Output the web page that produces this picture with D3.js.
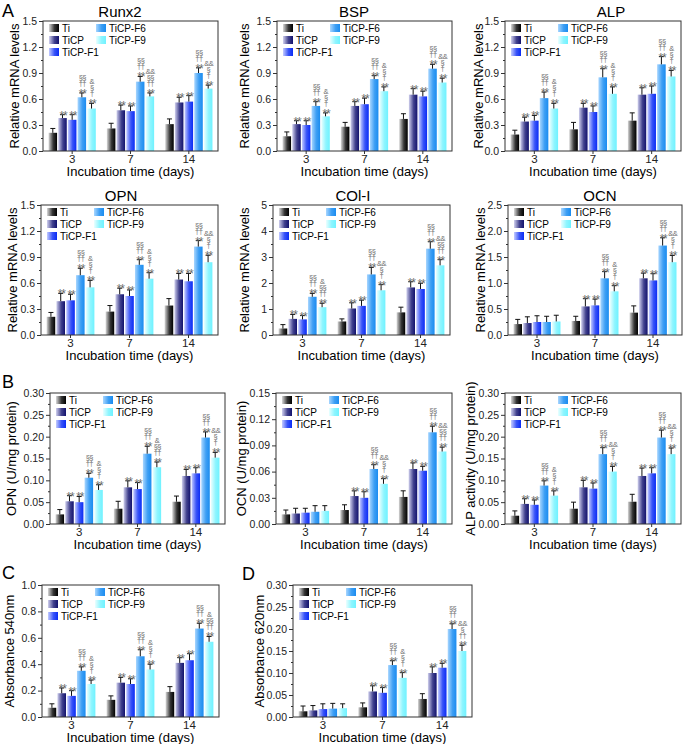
<!DOCTYPE html>
<html><head><meta charset="utf-8">
<script src="https://cdn.jsdelivr.net/npm/d3@7"></script>
<style>body{margin:0;background:#fff} svg{display:block} text{font-family:"Liberation Sans",Arial,sans-serif}</style>
</head><body><svg id="c" width="685" height="744"></svg>
<script>
const days = ["3","7","14"];
const series = ["Ti","TiCP","TiCP-F1","TiCP-F6","TiCP-F9"];
const seriesLight = ["#d8d8d8","#d0d0ee","#c4ccff","#a8d6ff","#eaffff"];
const seriesDark  = ["#000000","#12126e","#0a2cf5","#1a8cf0","#6ff2ff"];

// values: [day][series]
const runx2Mean = [[0.21,0.38,0.36,0.62,0.49],[0.26,0.47,0.46,0.80,0.63],[0.31,0.56,0.57,0.90,0.72]];
const runx2Err  = [[0.05,0.04,0.06,0.05,0.06],[0.06,0.06,0.06,0.06,0.04],[0.06,0.06,0.07,0.06,0.04]];
const runx2Sig  = [["","**","**","**|††|§§","**|†|§|&"],["","**","**","**|††|§§","**|††|§§|&&"],["","**","**","**|††|§§","**|†|§|&&"]];

const bspMean = [[0.17,0.31,0.30,0.52,0.40],[0.28,0.52,0.54,0.83,0.69],[0.37,0.65,0.63,0.95,0.79]];
const bspErr  = [[0.05,0.04,0.05,0.05,0.04],[0.05,0.05,0.07,0.04,0.05],[0.06,0.07,0.06,0.05,0.05]];
const bspSig  = [["","**","**","**|††|§§","**|†|§|&"],["","**","**","**|††|§§","**|†|§|&"],["","**","**","**|††|§§","**|†|§|&&"]];

const alpMean = [[0.19,0.34,0.35,0.61,0.49],[0.25,0.50,0.45,0.85,0.66],[0.35,0.65,0.66,1.00,0.86]];
const alpErr  = [[0.05,0.05,0.06,0.07,0.06],[0.08,0.05,0.07,0.10,0.08],[0.09,0.08,0.09,0.09,0.07]];
const alpSig  = [["","**","**","**|††|§§","**|†|§|&"],["","**","**","**|††|§§","**|†|§|&"],["","**","**","**|††|§§","**|†|§|&"]];

const opnMean = [[0.21,0.39,0.40,0.69,0.55],[0.27,0.47,0.45,0.81,0.65],[0.34,0.64,0.62,1.02,0.84]];
const opnErr  = [[0.05,0.09,0.07,0.08,0.08],[0.07,0.07,0.07,0.06,0.07],[0.08,0.07,0.09,0.07,0.08]];
const opnSig  = [["","**","**","**|††|§§","**|†|§|&"],["","**","**","**|††|§§","**|†|§|&"],["","**","**","**|††|§§","**|†|§|&&"]];

const colMean = [[0.25,0.62,0.60,1.47,1.07],[0.52,1.02,1.12,2.33,1.72],[0.87,1.83,1.77,3.32,2.68]];
const colErr  = [[0.15,0.17,0.15,0.13,0.15],[0.10,0.22,0.22,0.27,0.22],[0.20,0.22,0.22,0.27,0.22]];
const colSig  = [["","**","**","**|††|§§","**|††|§§|&"],["","**","**","**|††|§§","**|†|§|&&"],["","**","**","**|††|§§","**|††|§§|&&"]];

const ocnMean = [[0.21,0.23,0.25,0.25,0.26],[0.27,0.55,0.57,1.09,0.84],[0.43,1.09,1.05,1.72,1.40]];
const ocnErr  = [[0.09,0.12,0.12,0.11,0.12],[0.09,0.15,0.12,0.13,0.11],[0.13,0.10,0.13,0.15,0.13]];
const ocnSig  = [["","","","",""],["","**","**","**|††|§§","**|†|§|&"],["","**","**","**|††|§§","**|†|§|&&"]];

const opnProtMean = [[0.022,0.052,0.050,0.106,0.078],[0.035,0.084,0.080,0.161,0.130],[0.051,0.110,0.116,0.198,0.152]];
const opnProtErr  = [[0.011,0.013,0.013,0.010,0.012],[0.017,0.015,0.015,0.017,0.012],[0.013,0.015,0.013,0.013,0.012]];
const opnProtSig  = [["","**","**","**|††|§§","**|†|§|&"],["","**","**","**|††|§§","**|††|§§|&"],["","**","**","**|††|§§","**|†|§|&&"]];

const ocnProtMean = [[0.011,0.012,0.013,0.014,0.015],[0.016,0.032,0.030,0.063,0.046],[0.031,0.063,0.061,0.105,0.083]];
const ocnProtErr  = [[0.005,0.006,0.005,0.007,0.006],[0.006,0.006,0.007,0.005,0.006],[0.007,0.007,0.005,0.007,0.005]];
const ocnProtSig  = [["","","","",""],["","**","**","**|††|§§","**|†|§|&&"],["","**","**","**|††|§§","**|††|§§|&&"]];

const alpActMean = [[0.019,0.046,0.044,0.088,0.065],[0.035,0.084,0.081,0.160,0.120],[0.051,0.110,0.116,0.198,0.160]];
const alpActErr  = [[0.011,0.012,0.011,0.011,0.011],[0.015,0.016,0.013,0.015,0.012],[0.017,0.018,0.013,0.017,0.014]];
const alpActSig  = [["","**","**","**|††|§§","**|†|§|&"],["","**","**","**|††|§§","**|†|§|&&"],["","**","**","**|††|§§","**|†|§|&&"]];

const abs540Mean = [[0.07,0.18,0.16,0.35,0.25],[0.13,0.26,0.25,0.46,0.36],[0.19,0.41,0.43,0.67,0.57]];
const abs540Err  = [[0.03,0.04,0.04,0.03,0.03],[0.03,0.04,0.04,0.05,0.04],[0.04,0.04,0.05,0.04,0.04]];
const abs540Sig  = [["","**","**","**|††|§§","**|†|§|&"],["","**","**","**|††|§§","**|†|§|&"],["","**","**","**|††|§§","**|††|§§|&"]];

const abs620Mean = [[0.013,0.015,0.018,0.019,0.020],[0.022,0.058,0.055,0.118,0.089],[0.041,0.100,0.112,0.200,0.150]];
const abs620Err  = [[0.012,0.011,0.012,0.012,0.010],[0.010,0.013,0.012,0.010,0.012],[0.012,0.014,0.010,0.012,0.013]];
const abs620Sig  = [["","","","",""],["","**","**","**|††|§§","**|†|§|&"],["","**","**","**|††|§§","**|††|§|&&"]];

const xTitle = "Incubation time (days)";

const panels = [
  {title:"Runx2", tx:120, ty:17, yl:"Relative mRNA levels", ylx:14, x:43,  y:21,  w:175, h:130, max:1.5, step:0.3, fmt:".1f", mean:runx2Mean, err:runx2Err, sig:runx2Sig},
  {title:"BSP",   tx:354, ty:17, yl:"Relative mRNA levels", ylx:244, x:277, y:21,  w:175, h:130, max:1.5, step:0.3, fmt:".1f", mean:bspMean, err:bspErr, sig:bspSig},
  {title:"ALP",   tx:611, ty:17, yl:"Relative mRNA levels", ylx:478, x:505, y:21,  w:176, h:130, max:1.5, step:0.3, fmt:".1f", mean:alpMean, err:alpErr, sig:alpSig},
  {title:"OPN",   tx:121, ty:201, yl:"Relative mRNA levels", ylx:12, x:41,  y:205, w:177, h:130, max:1.5, step:0.3, fmt:".1f", mean:opnMean, err:opnErr, sig:opnSig},
  {title:"COl-I", tx:353, ty:201, yl:"Relative mRNA levels", ylx:244, x:273, y:205, w:177, h:130, max:5, step:1, fmt:"d", mean:colMean, err:colErr, sig:colSig},
  {title:"OCN",   tx:600, ty:201, yl:"Relative mRNA levels", ylx:480, x:508, y:205, w:174, h:130, max:2.5, step:0.5, fmt:".1f", mean:ocnMean, err:ocnErr, sig:ocnSig},
  {yl:"OPN (U/mg protein)", ylx:11, x:50,  y:393, w:175, h:131, max:0.30, step:0.05, fmt:".2f", mean:opnProtMean, err:opnProtErr, sig:opnProtSig},
  {yl:"OCN (U/mg protein)", ylx:241, x:276, y:393, w:176, h:131, max:0.15, step:0.03, fmt:".2f", mean:ocnProtMean, err:ocnProtErr, sig:ocnProtSig},
  {yl:"ALP activity (U/mg protein)", ylx:470, x:505, y:393, w:176, h:131, max:0.30, step:0.05, fmt:".2f", mean:alpActMean, err:alpActErr, sig:alpActSig},
  {yl:"Absorbance 540nm", ylx:9, x:42, y:585, w:177, h:132, max:1.0, step:0.2, fmt:".1f", mean:abs540Mean, err:abs540Err, sig:abs540Sig},
  {yl:"Absorbance 620nm", ylx:259, x:293, y:585, w:179, h:132, max:0.30, step:0.05, fmt:".2f", mean:abs620Mean, err:abs620Err, sig:abs620Sig}
];
const letters = [{t:"A",x:2,y:17},{t:"B",x:2,y:388},{t:"C",x:2,y:579},{t:"D",x:242,y:580}];

const svg = d3.select("#c");
const defs = svg.append("defs");
series.forEach((s,i)=>{
  const lg = defs.append("linearGradient").attr("id","g"+i).attr("x1",0).attr("x2",1).attr("y1",0).attr("y2",0);
  lg.append("stop").attr("offset",0).attr("stop-color",seriesLight[i]);
  lg.append("stop").attr("offset",0.55).attr("stop-color",d3.interpolateRgb(seriesLight[i],seriesDark[i])(0.75));
  lg.append("stop").attr("offset",1).attr("stop-color",seriesDark[i]);
});

letters.forEach(l=>svg.append("text").attr("x",l.x).attr("y",l.y).attr("font-size",18).text(l.t));

function drawPanel(p){
  const g = svg.append("g").attr("transform",`translate(${p.x},${p.y})`);
  const x0 = d3.scaleBand().domain(days).range([0,p.w]).paddingInner(0.19).paddingOuter(0.095);
  const x1 = d3.scaleBand().domain(series).range([0,x0.bandwidth()]).paddingInner(0.12);
  const y = d3.scaleLinear().domain([0,p.max]).range([p.h,0]);

  const nMaj = Math.round(p.max/p.step);
  const majors = d3.range(nMaj+1).map(i=>i*p.step);
  const minors = d3.range(nMaj).map(i=>(i+0.5)*p.step);
  const ya = g.append("g").call(d3.axisLeft(y).tickValues(majors).tickFormat(d3.format(p.fmt)).tickSize(4).tickPadding(2));
  ya.select(".domain").remove();
  ya.selectAll("text").attr("font-size",10.5).attr("fill","#222").attr("font-family","Liberation Sans, Arial, sans-serif");
  ya.selectAll("line").attr("stroke","#333");
  const ym = g.append("g").call(d3.axisLeft(y).tickValues(minors).tickFormat("").tickSize(2));
  ym.select(".domain").remove();
  ym.selectAll("line").attr("stroke","#333");
  const xa = g.append("g").attr("transform",`translate(0,${p.h})`).call(d3.axisBottom(x0).tickSize(3).tickPadding(1));
  xa.select(".domain").remove();
  xa.selectAll("line").attr("stroke","#333");
  xa.selectAll("text").attr("font-size",11.5).attr("fill","#222").attr("font-family","Liberation Sans, Arial, sans-serif");
  g.append("text").attr("x",p.w/2).attr("y",p.h+25).attr("text-anchor","middle").attr("font-size",13).text(xTitle);
  g.append("text").attr("transform",`translate(${p.ylx - p.x + 4.5},${p.h/2}) rotate(-90)`).attr("text-anchor","middle").attr("font-size",13).text(p.yl);
  if(p.title) svg.append("text").attr("x",p.tx).attr("y",p.ty).attr("text-anchor","middle").attr("font-size",15).text(p.title);

  days.forEach((d,di)=>{
    series.forEach((s,si)=>{
      const v = p.mean[di][si], e = p.err[di][si];
      const bx = x0(d)+x1(s), bw = x1.bandwidth(), cx = bx+bw/2;
      g.append("rect").attr("x",bx).attr("y",y(v)).attr("width",bw).attr("height",p.h-y(v)).attr("fill",`url(#g${si})`);
      const ty = y(v+e);
      g.append("line").attr("x1",cx).attr("x2",cx).attr("y1",y(v)).attr("y2",ty).attr("stroke","#111").attr("stroke-width",1);
      g.append("line").attr("x1",cx-2.5).attr("x2",cx+2.5).attr("y1",ty).attr("y2",ty).attr("stroke","#111").attr("stroke-width",1);
      const labs = p.sig[di][si] ? p.sig[di][si].split("|") : [];
      labs.forEach((lab,k)=>{
        const by = k===0 ? ty+5 : ty - 1 - 6*k;
        g.append("text").attr("x",cx+0.5).attr("y",by).attr("text-anchor","middle")
          .attr("font-size",k===0?12:7.5).attr("fill","#6a6a6a")
          .attr("letter-spacing",k===0?-1.2:(lab.length>1?-0.5:0)).text(lab);
      });
    });
  });

  const lg = g.append("g").attr("font-size",10);
  const pos = [[6,7],[6,19],[6,31],[53,7],[53,19]];
  series.forEach((s,i)=>{
    lg.append("rect").attr("x",pos[i][0]).attr("y",pos[i][1]-4).attr("width",10).attr("height",8).attr("fill",`url(#g${i})`);
    lg.append("text").attr("x",pos[i][0]+13).attr("y",pos[i][1]+3.5).text(s);
  });

  g.append("rect").attr("x",0).attr("y",0).attr("width",p.w).attr("height",p.h).attr("fill","none").attr("stroke","#333").attr("stroke-width",1);
}
panels.forEach(drawPanel);
</script></body></html>
